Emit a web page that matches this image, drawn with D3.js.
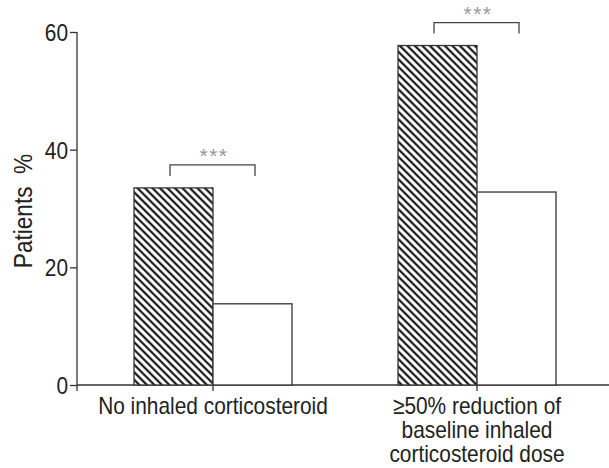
<!DOCTYPE html>
<html>
<head>
<meta charset="utf-8">
<script src="https://cdn.jsdelivr.net/npm/d3@7"></script>
<style>
  body { margin: 0; background: #fff; }
  text { font-family: "Liberation Sans", Arial, sans-serif; fill: #222; }
</style>
</head>
<body>
<div id="chart"></div>
<script>
// data
var categories = ["No inhaled corticosteroid", "\u226550% reduction of|baseline inhaled|corticosteroid dose"];
var hatchedValues = [33.5, 57.7];
var openValues = [13.8, 32.8];
var yTicks = [0, 20, 40, 60];
var sigLabels = ["***", "***"];

var width = 609, height = 468;
var squeeze = 0.87;   // the original type is a condensed face
var svg = d3.select("#chart").append("svg")
    .attr("width", width).attr("height", height);

// hatch pattern, lines running top-left to bottom-right
var defs = svg.append("defs");
var pat = defs.append("pattern")
    .attr("id", "hatch")
    .attr("patternUnits", "userSpaceOnUse")
    .attr("width", 5.3).attr("height", 5.3)
    .attr("patternTransform", "rotate(-45)");
pat.append("rect").attr("width", 5.3).attr("height", 5.3).attr("fill", "#fff");
pat.append("line")
    .attr("x1", 1.3).attr("y1", 0).attr("x2", 1.3).attr("y2", 5.3)
    .attr("stroke", "#000").attr("stroke-width", 2.0);

var y = d3.scaleLinear().domain([0, 60]).range([385, 32]);
var centers = [213, 477];
var barW = 79;

// axes
var yAxis = d3.axisLeft(y).tickValues(yTicks).tickSize(7).tickFormat("");
var gy = svg.append("g").attr("transform", "translate(77,0)").call(yAxis);
gy.select(".domain").attr("d", "M0,32V391").attr("stroke", "#333").attr("stroke-width", 1.3);
gy.selectAll(".tick line").attr("stroke", "#333").attr("stroke-width", 1.3);
gy.selectAll(".tick").append("g")
    .attr("transform", "translate(-9,0) scale(" + squeeze + ",1)")
    .append("text")
    .attr("text-anchor", "end")
    .attr("dy", "0.35em")
    .attr("font-size", 24)
    .attr("fill", "#222")
    .text(function(d) { return d; });

svg.append("line").attr("x1", 77).attr("x2", 609).attr("y1", 385).attr("y2", 385)
    .attr("stroke", "#333").attr("stroke-width", 1.3);

var groups = svg.selectAll(".grp").data(categories).enter().append("g");

groups.append("rect")
    .attr("x", function(d, i) { return centers[i] - barW; })
    .attr("y", function(d, i) { return y(hatchedValues[i]); })
    .attr("width", barW)
    .attr("height", function(d, i) { return y(0) - y(hatchedValues[i]); })
    .attr("fill", "url(#hatch)")
    .attr("stroke", "#333").attr("stroke-width", 1.3);

groups.append("rect")
    .attr("x", function(d, i) { return centers[i]; })
    .attr("y", function(d, i) { return y(openValues[i]); })
    .attr("width", barW)
    .attr("height", function(d, i) { return y(0) - y(openValues[i]); })
    .attr("fill", "#fff")
    .attr("stroke", "#333").attr("stroke-width", 1.3);

// category ticks
groups.append("line")
    .attr("x1", function(d, i) { return centers[i]; })
    .attr("x2", function(d, i) { return centers[i]; })
    .attr("y1", 385).attr("y2", 391)
    .attr("stroke", "#333").attr("stroke-width", 1.3);

// category labels
groups.append("g")
    .attr("transform", function(d, i) { return "translate(" + centers[i] + ",0) scale(" + squeeze + ",1)"; })
    .append("text")
    .attr("text-anchor", "middle")
    .attr("font-size", 24)
    .each(function(d) {
        var t = d3.select(this);
        d.split("|").forEach(function(l, j) {
            t.append("tspan").attr("x", 0).attr("y", 414 + j * 24).text(l);
        });
    });

// significance brackets
groups.append("path")
    .attr("d", function(d, i) {
        var top = Math.max(hatchedValues[i], openValues[i]);
        var yb = y(top) - 12, yt = y(top) - 23;
        return "M" + (centers[i] - 43) + "," + yb + "V" + yt + "H" + (centers[i] + 42) + "V" + yb;
    })
    .attr("fill", "none").attr("stroke", "#444").attr("stroke-width", 1.3);

groups.append("text")
    .attr("x", function(d, i) { return centers[i] + 1; })
    .attr("y", function(d, i) { return y(Math.max(hatchedValues[i], openValues[i])) - 25; })
    .attr("text-anchor", "middle")
    .attr("font-size", 21)
    .style("fill", "#999")
    .attr("letter-spacing", 1.5)
    .text(function(d, i) { return sigLabels[i]; });

// y label
svg.append("g")
    .attr("transform", "translate(32,211) rotate(-90) scale(" + squeeze + ",1)")
    .append("text")
    .attr("text-anchor", "middle")
    .attr("font-size", 26)
    .attr("xml:space", "preserve")
    .text("Patients  %");
</script>
</body>
</html>
